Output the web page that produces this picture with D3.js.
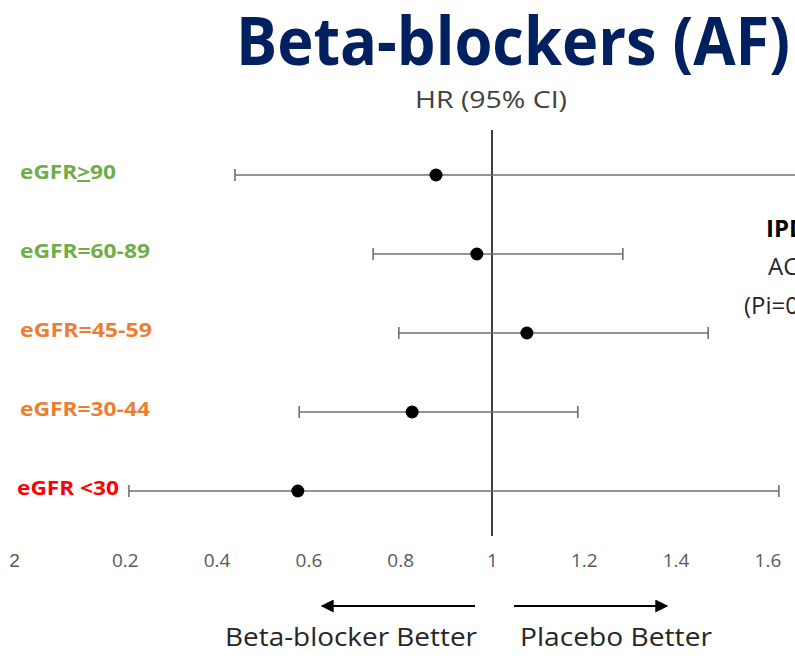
<!DOCTYPE html>
<html><head><meta charset="utf-8">
<script src="https://cdn.jsdelivr.net/npm/d3@7"></script>
<style>html,body{margin:0;padding:0;background:#fff;overflow:hidden}</style>
</head><body>
<script>
const categories = ["eGFR>90", "eGFR=60-89", "eGFR=45-59", "eGFR=30-44", "eGFR <30"];
const categoryColors = ["#70AD47", "#70AD47", "#ED7D31", "#ED7D31", "#FF0000"];
const hr = [0.878, 0.967, 1.076, 0.826, 0.577];
const ciLow = [0.44, 0.741, 0.797, 0.580, 0.209];
const ciHigh = [1.80, 1.285, 1.471, 1.187, 1.625];
const tickValues = [0.2, 0.4, 0.6, 0.8, 1, 1.2, 1.4, 1.6];
const tickLabels = ["0.2", "0.4", "0.6", "0.8", "1", "1.2", "1.4", "1.6"];
const croppedTick = {value: -0.04, label: "2"};
const rightNotes = ["IPD", "AC(", "(Pi=0"];

const W = 795, H = 663;
const svg = d3.select("body").append("svg").attr("width", W).attr("height", H)
  .style("font-family", "'Open Sans', sans-serif");

const x = d3.scaleLinear().domain([0, 1]).range([33, 492]);
const y = d3.scalePoint().domain(categories).range([175, 491]);

// title
svg.append("text").attr("x", 236).attr("y", 65)
  .attr("textLength", 554).attr("lengthAdjust", "spacingAndGlyphs")
  .style("font-size", "66px").style("font-weight", "bold").style("fill", "#002060")
  .text("Beta-blockers (AF)");
svg.append("text").attr("x", 415).attr("y", 108)
  .attr("textLength", 152).attr("lengthAdjust", "spacingAndGlyphs")
  .style("font-size", "24px").style("fill", "#404040").text("HR (95% CI)");

// reference line
svg.append("line").attr("x1", x(1)).attr("x2", x(1)).attr("y1", 130).attr("y2", 536)
  .attr("stroke", "#000").attr("stroke-width", 1.5);

// axis labels
const axisG = svg.append("g").attr("transform", "translate(0,560)");
const axis = d3.axisBottom(x).tickValues(tickValues)
  .tickFormat((d, i) => tickLabels[i]).tickSize(0).tickPadding(0);
axisG.call(axis);
axisG.select(".domain").remove();
axisG.selectAll("text").attr("dy", "0").attr("y", 7)
  .style("font-size", "19px").style("fill", "#595959").style("font-family", "'Open Sans', sans-serif");
axisG.append("text").attr("x", x(croppedTick.value)).attr("y", 7).attr("text-anchor", "middle")
  .style("font-size", "19px").style("fill", "#595959").text(croppedTick.label);

// rows
const rows = categories.map((c, i) => ({c, col: categoryColors[i], hr: hr[i], lo: ciLow[i], hi: ciHigh[i]}));
const g = svg.append("g");
rows.forEach(r => {
  const yy = y(r.c);
  g.append("line").attr("x1", x(r.lo)).attr("x2", x(r.hi)).attr("y1", yy).attr("y2", yy)
    .attr("stroke", "#6f6f6f").attr("stroke-width", 1.6);
  [r.lo, r.hi].forEach(v => g.append("line").attr("x1", x(v)).attr("x2", x(v))
    .attr("y1", yy - 6).attr("y2", yy + 6).attr("stroke", "#6f6f6f").attr("stroke-width", 1.6));
  g.append("circle").attr("cx", x(r.hr)).attr("cy", yy).attr("r", 6.5).attr("fill", "#000");
});

// category labels
const labelWidths = [96, 130, 132, 130, 102];
const lab = svg.append("g");
rows.forEach((r, i) => {
  const t = lab.append("text").attr("x", i === 4 ? 17 : 20).attr("y", y(r.c) + 4)
    .attr("textLength", labelWidths[i]).attr("lengthAdjust", "spacingAndGlyphs")
    .style("font-size", "20px").style("font-weight", "bold").style("fill", r.col);
  if (r.c.indexOf(">") >= 0) {
    t.append("tspan").text("eGFR");
    t.append("tspan").style("text-decoration", "underline").text(">");
    t.append("tspan").text("90");
  } else t.text(r.c);
});

// right notes (cropped by the frame as in the reference)
svg.append("text").attr("x", 766).attr("y", 237).style("font-size", "24px").style("font-weight", "bold").style("fill", "#000").text(rightNotes[0]);
svg.append("text").attr("x", 768).attr("y", 275).style("font-size", "24px").style("fill", "#262626").text(rightNotes[1]);
svg.append("text").attr("x", 744).attr("y", 314).style("font-size", "24px").style("fill", "#262626").text(rightNotes[2]);

// arrows
const defs = svg.append("defs");
defs.append("marker").attr("id", "ah").attr("viewBox", "0 0 10 10").attr("refX", 9).attr("refY", 5)
  .attr("markerWidth", 15).attr("markerHeight", 13).attr("markerUnits", "userSpaceOnUse").attr("orient", "auto")
  .append("path").attr("d", "M0,0 L10,5 L0,10 z").attr("fill", "#000");
svg.append("line").attr("x1", 475).attr("x2", 322).attr("y1", 606).attr("y2", 606)
  .attr("stroke", "#000").attr("stroke-width", 2).attr("marker-end", "url(#ah)");
svg.append("line").attr("x1", 514).attr("x2", 667).attr("y1", 606).attr("y2", 606)
  .attr("stroke", "#000").attr("stroke-width", 2).attr("marker-end", "url(#ah)");
svg.append("text").attr("x", 225).attr("y", 646)
  .attr("textLength", 252).attr("lengthAdjust", "spacingAndGlyphs")
  .style("font-size", "26px").style("fill", "#262626").text("Beta-blocker Better");
svg.append("text").attr("x", 520).attr("y", 646)
  .attr("textLength", 192).attr("lengthAdjust", "spacingAndGlyphs")
  .style("font-size", "26px").style("fill", "#262626").text("Placebo Better");
</script>
</body></html>
